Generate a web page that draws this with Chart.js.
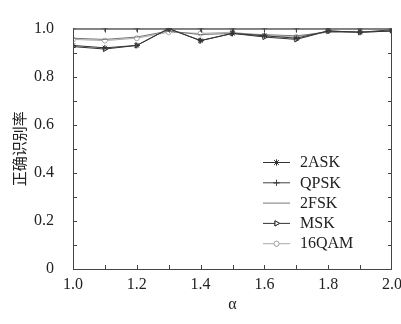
<!DOCTYPE html>
<html>
<head>
<meta charset="utf-8">
<script src="https://cdn.jsdelivr.net/npm/chart.js@4"></script>
<style>
  html, body { margin: 0; padding: 0; background: #fff; overflow: hidden; }
  #wrap { width: 401px; height: 324px; overflow: hidden; }
</style>
</head>
<body>
<div id="wrap"><canvas id="rateChart" width="420" height="324"></canvas></div>
<script>
const alpha = [1.0, 1.1, 1.2, 1.3, 1.4, 1.5, 1.6, 1.7, 1.8, 1.9, 2.0];
const ask2 = [0.93, 0.92, 0.93, 1.0, 0.95, 0.98, 0.97, 0.96, 0.99, 0.985, 0.99];
const qpsk = [1.0, 1.0, 1.0, 1.0, 1.0, 1.0, 1.0, 1.0, 1.0, 1.0, 1.0];
const fsk2 = [0.96, 0.955, 0.965, 0.99, 0.975, 0.98, 0.975, 0.97, 0.985, 0.985, 0.99];
const msk = [0.925, 0.915, 0.93, 1.0, 0.95, 0.98, 0.965, 0.955, 0.99, 0.985, 0.995];
const qam16 = [0.955, 0.95, 0.96, 0.985, 0.98, 0.985, 0.97, 0.965, 0.99, 0.985, 0.99];
const seriesNames = ['2ASK', 'QPSK', '2FSK', 'MSK', '16QAM'];
const yTitle = '正确识别率';
const xTitle = 'α';

const serif = "'Liberation Serif', 'DejaVu Serif', serif";

function pts(vals) {
  return alpha.map((a, i) => ({ x: a, y: vals[i] }));
}

// box around the plot and short ticks pointing inward, every 0.1
const frameTicks = {
  id: 'frameTicks',
  afterDraw(chart) {
    const ctx = chart.ctx;
    const a = chart.chartArea;
    const xs = chart.scales.x;
    const ys = chart.scales.y;
    ctx.save();
    ctx.strokeStyle = '#444';
    ctx.lineWidth = 1;
    ctx.strokeRect(a.left + 0.5, a.top + 0.5, a.right - a.left - 1, a.bottom - a.top);
    ctx.beginPath();
    for (let i = 1; i < 10; i++) {
      const px = Math.round(xs.getPixelForValue(1 + i / 10)) + 0.5;
      ctx.moveTo(px, a.bottom); ctx.lineTo(px, a.bottom - 4);
      ctx.moveTo(px, a.top); ctx.lineTo(px, a.top + 4);
      const py = Math.round(ys.getPixelForValue(i / 10)) + 0.5;
      ctx.moveTo(a.left, py); ctx.lineTo(a.left + 4, py);
      ctx.moveTo(a.right, py); ctx.lineTo(a.right - 4, py);
    }
    ctx.stroke();

    // legend inside the plot
    const lx = 263, lw = 27, tx = 300;
    let ly = 162;
    chart.data.datasets.forEach(ds => {
      ctx.strokeStyle = ds.borderColor;
      ctx.lineWidth = 1;
      ctx.beginPath();
      ctx.moveTo(lx, ly + 0.5); ctx.lineTo(lx + lw, ly + 0.5);
      ctx.stroke();
      if (ds.pointRadius > 0) {
        Chart.helpers.drawPoint(ctx, {
          pointStyle: ds.pointStyle,
          radius: ds.pointRadius,
          rotation: ds.pointRotation || 0,
          borderWidth: 1
        }, lx + lw / 2, ly + 0.5);
        ctx.fillStyle = ds.pointBackgroundColor;
        ctx.strokeStyle = ds.pointBorderColor;
        Chart.helpers.drawPoint(ctx, {
          pointStyle: ds.pointStyle,
          radius: ds.pointRadius,
          rotation: ds.pointRotation || 0,
          borderWidth: 1
        }, lx + lw / 2, ly + 0.5);
      }
      ctx.fillStyle = '#222';
      ctx.font = "16px " + serif;
      ctx.textBaseline = 'middle';
      ctx.textAlign = 'left';
      ctx.fillText(ds.label, tx, ly + 1);
      ly += 20.3;
    });
    ctx.restore();
  }
};

function series(label, vals, color, style, radius, rot) {
  return {
    label: label,
    data: pts(vals),
    borderColor: color,
    borderWidth: 1,
    pointStyle: style,
    pointRadius: radius,
    pointRotation: rot || 0,
    pointBackgroundColor: '#fff',
    pointBorderColor: color,
    pointBorderWidth: 1,
    tension: 0
  };
}

const ctx = document.getElementById('rateChart').getContext('2d');
const rateChart = new Chart(ctx, {
  type: 'line',
  data: {
    datasets: [
      series(seriesNames[0], ask2, '#333', 'star', 3),
      series(seriesNames[1], qpsk, '#444', 'cross', 3),
      series(seriesNames[2], fsk2, '#777', 'circle', 0),
      series(seriesNames[3], msk, '#333', 'triangle', 3, 90),
      series(seriesNames[4], qam16, '#aaa', 'circle', 2.5)
    ]
  },
  options: {
    responsive: false,
    animation: false,
    layout: { padding: { left: 0, right: 28, top: 15, bottom: 0 } },
    plugins: {
      legend: { display: false },
      tooltip: { enabled: false }
    },
    scales: {
      x: {
        type: 'linear',
        min: 1, max: 2,
        grid: { display: false, drawTicks: false },
        border: { display: false },
        ticks: {
          stepSize: 0.2,
          padding: 6,
          color: '#222',
          font: { family: serif, size: 16 },
          callback: v => v.toFixed(1)
        },
        title: {
          display: true,
          text: xTitle,
          color: '#222',
          font: { family: serif, size: 16 },
          padding: { top: 0, bottom: 10 }
        },
        afterFit: s => { s.height = 55; }
      },
      y: {
        min: 0, max: 1,
        grid: { display: false, drawTicks: false },
        border: { display: false },
        ticks: {
          stepSize: 0.2,
          padding: 19,
          color: '#222',
          font: { family: serif, size: 16 },
          callback: v => (v === 0 ? '0' : v.toFixed(1))
        },
        title: {
          display: true,
          text: yTitle,
          color: '#222',
          font: { family: "'Noto Sans CJK SC', sans-serif", size: 15 },
          padding: { top: 10, bottom: 0 }
        },
        afterFit: s => { s.width = 73; }
      }
    }
  },
  plugins: [frameTicks]
});
</script>
</body>
</html>
